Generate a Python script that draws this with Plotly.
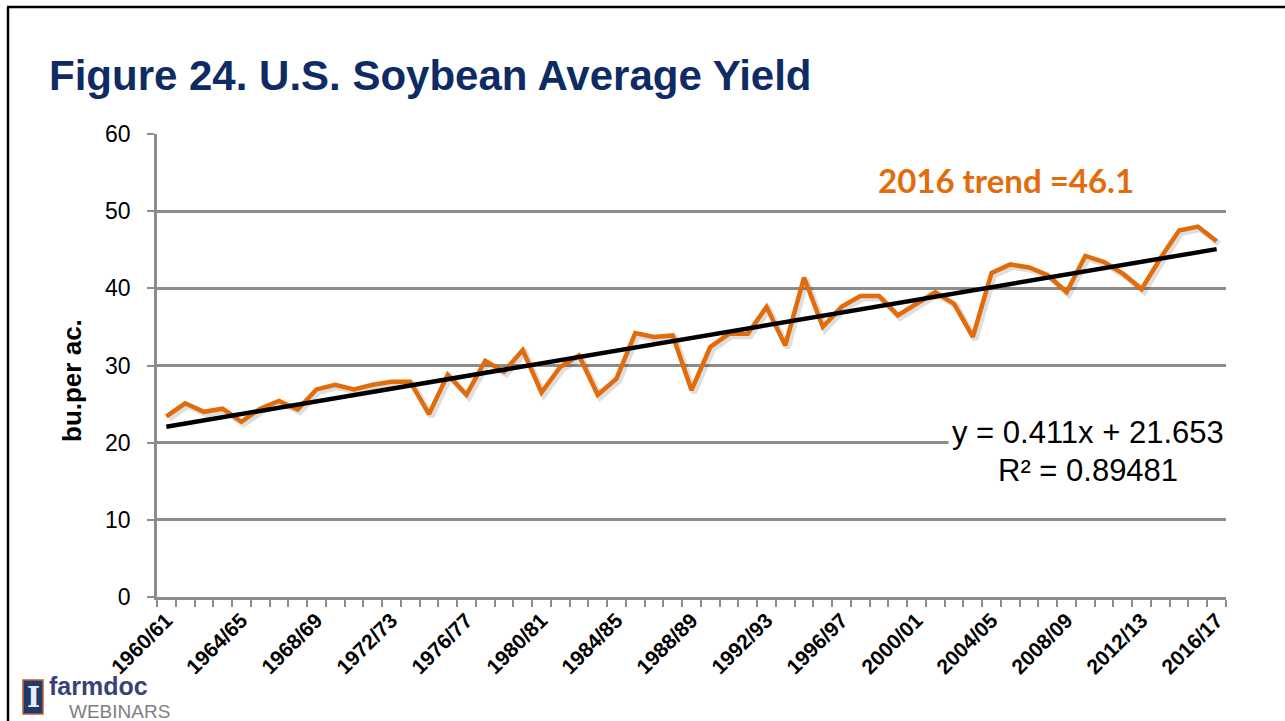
import plotly.graph_objects as go

# ---------------- data ----------------
seasons = [f"{y}/{str(y + 1)[-2:]}" for y in range(1960, 2017)]
yields = [23.4, 25.1, 24.0, 24.4, 22.7, 24.4, 25.4, 24.3, 26.9, 27.5,
          26.9, 27.5, 27.9, 27.9, 23.7, 28.8, 26.2, 30.6, 29.2, 32.0,
          26.5, 29.8, 31.3, 26.2, 28.3, 34.2, 33.7, 33.9, 26.8, 32.4,
          34.1, 34.1, 37.6, 32.6, 41.4, 35.0, 37.6, 39.0, 39.0, 36.5,
          38.0, 39.5, 38.0, 33.7, 42.0, 43.1, 42.7, 41.7, 39.5, 44.2,
          43.4, 41.9, 39.9, 43.9, 47.5, 48.0, 46.1]
trend_slope = 0.411
trend_intercept = 21.653
r_squared = 0.89481
label_every = 4
y_ticks = [0, 10, 20, 30, 40, 50, 60]

# ---------------- helpers ----------------
W, H = 1285, 721
PL, PR, PT, PB = 157, 1226, 134, 597  # plot area in pixels

def px(x):
    return (x - PL) / (PR - PL)

def py(y):
    return (PB - y) / (PB - PT)

n = len(seasons)
xs = list(range(1, n + 1))
trend_x = [1, n]
trend_y = [trend_slope * v + trend_intercept for v in trend_x]

ORANGE = "#E36C0A"
NAVY = "#0E2B63"
GRID = "#8C8C8C"
FONT = "Liberation Sans, Arial, sans-serif"

XR = [0.5, n + 0.5]
YR = [0, 60]
# shadow offset of the series line (in pixels, converted to axis units)
sh_dx = 2.5 / ((PR - PL) / n)
sh_dy = 2.5 / ((PB - PT) / 60)

fig = go.Figure()
# invisible trace that keeps the main (visible) axes populated
fig.add_trace(go.Scatter(x=xs, y=yields, mode="lines", line=dict(width=0, color="rgba(0,0,0,0)"),
                         showlegend=False, hoverinfo="skip"))
# soft drop shadow, drawn on an overlaying axis pair that is shifted a few pixels
fig.add_trace(go.Scatter(x=xs, y=yields, mode="lines", xaxis="x2", yaxis="y2",
                         line=dict(color="rgba(0,0,0,0.13)", width=6),
                         showlegend=False, hoverinfo="skip"))
# series and trend line on a top overlay with the same scales as the main axes
fig.add_trace(go.Scatter(x=xs, y=yields, mode="lines", xaxis="x3", yaxis="y3",
                         line=dict(color=ORANGE, width=4.5), showlegend=False,
                         hoverinfo="x+y"))
fig.add_trace(go.Scatter(x=trend_x, y=trend_y, mode="lines", xaxis="x3", yaxis="y3",
                         line=dict(color="black", width=4.5), showlegend=False))

tickvals = xs[::label_every]
ticktext = seasons[::label_every]

fig.update_layout(
    width=W, height=H,
    margin=dict(l=PL, r=W - PR, t=PT, b=H - PB, pad=0),
    paper_bgcolor="white", plot_bgcolor="white",
    font=dict(family=FONT, color="black"),
    xaxis=dict(range=XR, tickmode="array", tickvals=tickvals,
               ticktext=ticktext, tickangle=-45, ticks="", showgrid=False,
               zeroline=False, showline=True, linecolor=GRID, linewidth=2.5,
               tickfont=dict(size=21, family=FONT, color="black", weight="bold"),
               minor=dict(tick0=0.5, dtick=1, ticks="outside", ticklen=7,
                          tickwidth=2, tickcolor=GRID, showgrid=False)),
    yaxis=dict(range=YR, tickvals=y_ticks, ticks="outside", ticklen=7,
               tickwidth=2, tickcolor=GRID, showgrid=True, gridcolor=GRID,
               gridwidth=2.5, zeroline=False, showline=True, linecolor=GRID,
               linewidth=2.5, tickfont=dict(size=23, family=FONT, color="black"),
               ticklabelstandoff=12),
    xaxis2=dict(overlaying="x", range=[XR[0] - sh_dx, XR[1] - sh_dx], visible=False),
    yaxis2=dict(overlaying="y", range=[YR[0] + sh_dy, YR[1] + sh_dy], visible=False),
    xaxis3=dict(overlaying="x", range=XR, visible=False),
    yaxis3=dict(overlaying="y", range=YR, visible=False),
)

ann = []
# title
ann.append(dict(x=px(47), y=py(75), xref="paper", yref="paper", xanchor="left",
                yanchor="middle", showarrow=False,
                text="<b>Figure 24. U.S. Soybean Average Yield</b>",
                font=dict(size=42, color=NAVY, family=FONT)))
# y axis title
ann.append(dict(x=px(72), y=py(381), xref="paper", yref="paper", xanchor="center",
                yanchor="middle", showarrow=False, textangle=-90,
                text="<b>bu.per ac.</b>", font=dict(size=26, color="black", family=FONT)))
# trend annotation
ann.append(dict(x=px(1006), y=py(180), xref="paper", yref="paper", xanchor="center",
                yanchor="middle", showarrow=False,
                text=f"<b>2016 trend ={yields[-1]}</b>",
                font=dict(size=33, color=ORANGE, family="Lato, Open Sans, sans-serif")))
# equation
ann.append(dict(x=px(1228), y=py(432), xref="paper", yref="paper", xanchor="right",
                yanchor="middle", showarrow=False, bgcolor="white", borderpad=3,
                text=f"y = {trend_slope}x + {trend_intercept}",
                font=dict(size=31, color="black", family=FONT)))
ann.append(dict(x=px(1180), y=py(470), xref="paper", yref="paper", xanchor="right",
                yanchor="middle", showarrow=False,
                text=f"R² = {r_squared}",
                font=dict(size=31, color="black", family=FONT)))
# logo text
ann.append(dict(x=px(47), y=py(686), xref="paper", yref="paper", xanchor="left",
                yanchor="middle", showarrow=False, text="<b>farmdoc</b>",
                font=dict(size=25, color="#3B3F7A", family=FONT)))
ann.append(dict(x=px(67), y=py(711), xref="paper", yref="paper", xanchor="left",
                yanchor="middle", showarrow=False, text="WEBINARS",
                font=dict(size=19, color="#7F7F7F", family=FONT)))
ann.append(dict(x=px(33), y=py(697), xref="paper", yref="paper", xanchor="center",
                yanchor="middle", showarrow=False, text="<b>I</b>",
                font=dict(size=28, color="#E8EEF7", family="DejaVu Serif, serif")))
fig.update_layout(annotations=ann)

shapes = [
    # slide frame (left and top)
    dict(type="line", xref="paper", yref="paper", x0=px(8), x1=px(8), y0=py(7), y1=py(730),
         line=dict(color="black", width=2.5)),
    dict(type="line", xref="paper", yref="paper", x0=px(7), x1=px(1300), y0=py(7), y1=py(7),
         line=dict(color="black", width=2.5)),
    # logo box
    dict(type="rect", xref="paper", yref="paper", x0=px(23), x1=px(43), y0=py(680), y1=py(714),
         fillcolor="#1F3A6B", line=dict(color="#C0622B", width=1.5), layer="below"),
]
fig.update_layout(shapes=shapes)

fig.write_html("out.html", config={"displayModeBar": False},
               post_script="document.body.style.margin='0px';document.body.style.overflow='hidden';")
